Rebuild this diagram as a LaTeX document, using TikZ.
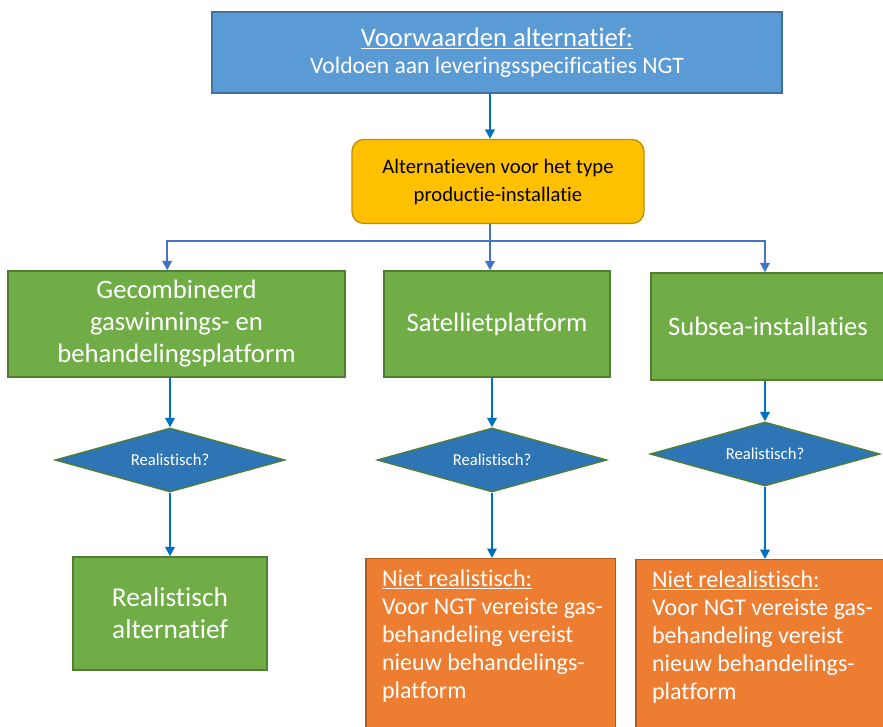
\documentclass[tikz,border=0pt]{standalone}
\usepackage{fontspec}
\setmainfont{Carlito}[Ligatures=NoCommon]
\usetikzlibrary{shapes.geometric,arrows.meta}
\definecolor{boxblue}{HTML}{5B9BD5}
\definecolor{boxblueline}{HTML}{41719C}
\definecolor{boxyellow}{HTML}{FFC000}
\definecolor{boxyellowline}{HTML}{BF9000}
\definecolor{boxgreen}{HTML}{70AD47}
\definecolor{boxgreenline}{HTML}{507E32}
\definecolor{boxorange}{HTML}{ED7D31}
\definecolor{boxorangeline}{HTML}{AE5A21}
\definecolor{diablue}{HTML}{2E75B6}
\definecolor{arrowblue}{HTML}{0070C0}
\definecolor{branchblue}{HTML}{4472C4}
\tikzset{
  conditionbox/.style={draw=boxblueline, fill=boxblue, line width=1pt, text=white,
    minimum width=427.5pt, minimum height=60.75pt, align=center},
  typebox/.style={draw=boxyellowline, fill=boxyellow, line width=1pt, rounded corners=9pt,
    minimum width=219pt, minimum height=63pt, align=center,
    font=\fontsize{15.5}{21}\selectfont},
  optionbox/.style={draw=boxgreenline, fill=boxgreen, line width=1pt, text=white,
    minimum height=79.5pt, align=center, font=\fontsize{20}{24}\selectfont},
  checkdia/.style={diamond, aspect=4, draw=boxgreenline, fill=diablue, line width=1pt,
    text=white, minimum width=172.5pt, minimum height=48pt, inner sep=0pt,
    font=\fontsize{12.5}{14}\selectfont},
  notbox/.style={draw=boxorangeline, fill=boxorange, line width=1pt,
    minimum width=187pt, minimum height=142pt, anchor=north},
  nottext/.style={text=white, align=left, anchor=north west, inner sep=0pt,
    font=\fontsize{18}{21}\selectfont},
  flow/.style={draw=arrowblue, line width=1.6pt, -{Triangle[length=7pt,width=7pt]}},
  branch/.style={draw=branchblue, line width=1.5pt}
}
\begin{document}
\begin{tikzpicture}[x=0.75pt, y=-0.75pt]
  \useasboundingbox (0,0) rectangle (883,727);

  \node[conditionbox] (voorw) at (497,52.5)
    {{\fontsize{20}{22}\selectfont\underline{Voorwaarden alternatief:}}\\[5pt]
     {\fontsize{17.7}{20}\selectfont Voldoen aan leveringsspecificaties NGT}};
  \node[typebox] (alt) at (498,181.5) {Alternatieven voor het type\\productie-installatie};
  \coordinate (split) at (490,241);

  \node[optionbox, minimum width=252.75pt] (gecomb) at (176.5,324)
    {Gecombineerd\\gaswinnings- en\\behandelingsplatform};
  \node[optionbox, minimum width=169.5pt] (sat) at (497,324) {Satellietplatform};
  \node[optionbox, minimum width=175.5pt, minimum height=80.25pt] (subsea) at (768,326.5)
    {Subsea-installaties};

  \node[checkdia] (dia1) at (170,460) {Realistisch?};
  \node[checkdia] (dia2) at (492,460) {Realistisch?};
  \node[checkdia] (dia3) at (765,454) {Realistisch?};

  \node[optionbox, minimum width=145.5pt, minimum height=84.75pt,
    font=\fontsize{20.5}{24}\selectfont] (real) at (170,613.5) {Realistisch\\alternatief};
  \node[notbox] (niet2) at (490.5,558) {};
  \node[notbox] (niet3) at (760.5,559) {};
  \node[nottext] at ([shift={(12.5pt,-8.5pt)}]niet2.north west)
    {\underline{Niet realistisch:}\\Voor NGT vereiste gas-\\behandeling vereist\\nieuw behandelings-\\platform};
  \node[nottext] at ([shift={(12.5pt,-8.5pt)}]niet3.north west)
    {\underline{Niet relealistisch:}\\Voor NGT vereiste gas-\\behandeling vereist\\nieuw behandelings-\\platform};

  \draw[flow] (voorw.south -| split) -- (alt.north -| split);
  \draw[branch] (alt.south -| split) -- (split);
  \draw[branch, -{Triangle[length=7pt,width=7pt]}] (split) -| ([xshift=-7pt]gecomb.north);
  \draw[branch, -{Triangle[length=7pt,width=7pt]}] (split) -- (split |- sat.north);
  \draw[branch, -{Triangle[length=7pt,width=7pt]}] (split) -| (dia3 |- subsea.north);

  \draw[flow] (gecomb.south -| dia1) -- (dia1.north);
  \draw[flow] (sat.south -| dia2) -- (dia2.north);
  \draw[flow] (subsea.south -| dia3) -- (dia3.north);
  \draw[flow] (dia1.south) -- (dia1.south |- real.north);
  \draw[flow] (dia2.south) -- (dia2.south |- niet2.north);
  \draw[flow] (dia3.south) -- (dia3.south |- niet3.north);
\end{tikzpicture}
\end{document}
